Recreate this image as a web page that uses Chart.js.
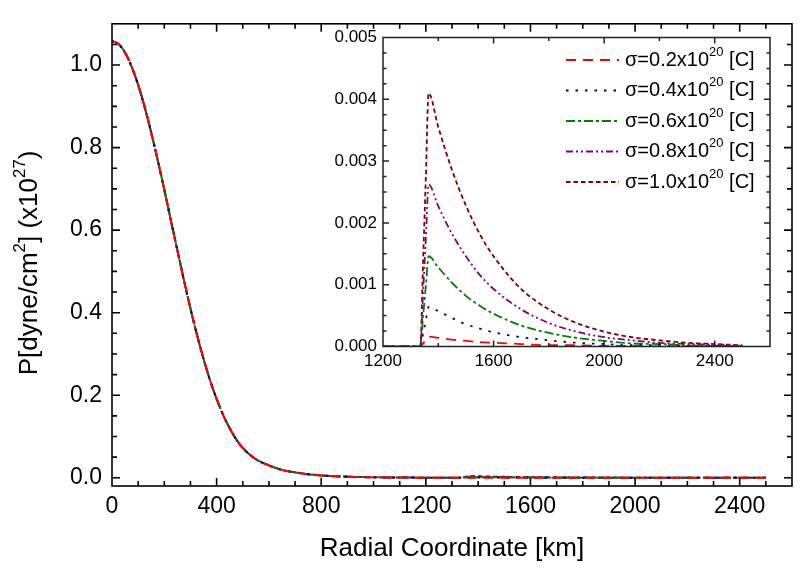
<!DOCTYPE html>
<html>
<head>
<meta charset="utf-8">
<script src="https://cdn.jsdelivr.net/npm/chart.js@4.4.0/dist/chart.umd.min.js"></script>
<style>
  html, body { margin: 0; padding: 0; background: #fff; }
  #wrap { position: relative; width: 806px; height: 570px; }
  #mainBox { position: absolute; left: 0; top: 0; width: 806px; height: 570px; }
  #insetBox { position: absolute; left: 320px; top: 20px; width: 460px; height: 355px; }
</style>
</head>
<body>
<div id="wrap">
  <div id="mainBox"><canvas id="mainChart"></canvas></div>
  <div id="insetBox"><canvas id="insetChart"></canvas></div>
</div>
<script>
// central pressure profile (same for every sigma, curves overlap)
const coreRadius = [0, 25, 50, 75, 100, 125, 150, 175, 200, 225, 250, 275, 300, 325, 350, 375, 400, 425, 450, 475, 500, 550, 600, 650, 700, 750, 800, 900, 1000, 1100, 1200];
const corePressure = [1.058, 1.051, 1.030, 0.996, 0.952, 0.898, 0.836, 0.769, 0.698, 0.624, 0.551, 0.479, 0.410, 0.346, 0.288, 0.236, 0.191, 0.152, 0.120, 0.093, 0.072, 0.045, 0.030, 0.019, 0.013, 0.0085, 0.0055, 0.0025, 0.0012, 0.0005, 0.0002];

// outer shell bump (inset)
const shellRadius = [1200, 1300, 1335, 1345, 1355, 1365, 1400, 1450, 1500, 1550, 1600, 1700, 1800, 1900, 2000, 2100, 2200, 2300, 2400, 2500];
const sigma02 = [0, 0, 0, 0.00005, 0.00011, 0.00016, 0.00014, 0.00011, 0.00009, 0.00007, 0.00006, 0.00004, 0.00002, 0.00002, 0.00001, 0.00001, 0, 0, 0, 0];
const sigma04 = [0, 0, 0, 0.00021, 0.00043, 0.00064, 0.00057, 0.00046, 0.00036, 0.00029, 0.00023, 0.00015, 0.0001, 0.00006, 0.00004, 0.00002, 0.00002, 0.00001, 0.00001, 0];
const sigma06 = [0, 0, 0, 0.00049, 0.00098, 0.00146, 0.00128, 0.00103, 0.00082, 0.00066, 0.00053, 0.00034, 0.00022, 0.00014, 0.00009, 0.00005, 0.00004, 0.00002, 0.00001, 0.00001];
const sigma08 = [0, 0, 0, 0.00088, 0.00175, 0.00262, 0.00227, 0.00182, 0.00146, 0.00116, 0.00093, 0.0006, 0.00038, 0.00024, 0.00015, 0.0001, 0.00006, 0.00004, 0.00003, 0.00001];
const sigma10 = [0, 0, 0, 0.00137, 0.00274, 0.0041, 0.00355, 0.00285, 0.00228, 0.00182, 0.00146, 0.00093, 0.0006, 0.00038, 0.00024, 0.00015, 0.0001, 0.00006, 0.00004, 0.00002];

const seriesLabels = ['σ=0.2x10²⁰ [C]', 'σ=0.4x10²⁰ [C]', 'σ=0.6x10²⁰ [C]', 'σ=0.8x10²⁰ [C]', 'σ=1.0x10²⁰ [C]'];
const shellSeries = [sigma02, sigma04, sigma06, sigma08, sigma10];

const mainXTicks = [0, 400, 800, 1200, 1600, 2000, 2400];
const mainYTicks = [0, 0.2, 0.4, 0.6, 0.8, 1.0];
const insetXTicks = [1200, 1600, 2000, 2400];
const insetYTicks = [0, 0.001, 0.002, 0.003, 0.004, 0.005];

const seriesColors = ['#ff0000', '#000080', '#008000', '#800080', '#800000'];
const seriesDashes = [[10, 7], [2.5, 7], [9, 3, 3, 3], [7, 3, 2, 3, 2, 3], [4.5, 3]];

const FONT = '"Liberation Sans", Arial, Helvetica, sans-serif';

function mainPoints(shell) {
    const pts = coreRadius.map((r, i) => ({ x: r, y: corePressure[i] }));
    return pts.concat(shellRadius.slice(1).map((r, i) => ({ x: r, y: shell[i + 1] })));
}
function insetPoints(shell) {
    return shellRadius.map((r, i) => ({ x: r, y: shell[i] }));
}

// frame box + inward ticks on all four sides
const frameAndTicks = {
    id: 'frameAndTicks',
    afterDatasetsDraw(chart, args, o) {
        const { ctx, chartArea: a, scales: { x, y } } = chart;
        const steps = (scale, minor, major) => {
            const out = [];
            const n0 = Math.ceil(scale.min / minor - 1e-9), n1 = Math.floor(scale.max / minor + 1e-9);
            for (let n = n0; n <= n1; n++) {
                const r = (n * minor) / major;
                out.push({ v: n * minor, major: Math.abs(r - Math.round(r)) < 1e-6 });
            }
            return out;
        };
        ctx.save();
        ctx.setLineDash([]);
        ctx.strokeStyle = o.color;
        ctx.lineWidth = o.lineWidth;
        ctx.beginPath();
        steps(x, o.xMinor, o.xMajor).forEach(t => {
            const p = x.getPixelForValue(t.v);
            if (p <= a.left + 1 || p >= a.right - 1) return;
            const len = t.major ? o.majorLen : o.minorLen;
            ctx.moveTo(p, a.bottom); ctx.lineTo(p, a.bottom - len);
            ctx.moveTo(p, a.top); ctx.lineTo(p, a.top + len);
        });
        steps(y, o.yMinor, o.yMajor).forEach(t => {
            const p = y.getPixelForValue(t.v);
            if (p <= a.top + 1 || p >= a.bottom - 1) return;
            const len = t.major ? o.majorLen : o.minorLen;
            ctx.moveTo(a.left, p); ctx.lineTo(a.left + len, p);
            ctx.moveTo(a.right, p); ctx.lineTo(a.right - len, p);
        });
        ctx.stroke();
        ctx.strokeRect(a.left, a.top, a.right - a.left, a.bottom - a.top);
        ctx.restore();
    }
};

// text with unicode superscripts drawn small and raised
const SUP = { '⁰': '0', '¹': '1', '²': '2', '³': '3', '⁴': '4', '⁵': '5', '⁶': '6', '⁷': '7', '⁸': '8', '⁹': '9' };
function drawRich(ctx, text, x, y, size) {
    const runs = [];
    for (const ch of text) {
        const sup = ch in SUP;
        const c = sup ? SUP[ch] : ch;
        if (runs.length && runs[runs.length - 1].sup === sup) runs[runs.length - 1].t += c;
        else runs.push({ sup, t: c });
    }
    let cx = x;
    runs.forEach(r => {
        const s = r.sup ? size * 0.65 : size;
        ctx.font = s + 'px ' + FONT;
        ctx.fillText(r.t, cx, r.sup ? y - size * 0.38 : y);
        cx += ctx.measureText(r.t).width;
    });
}

const insetLegend = {
    id: 'insetLegend',
    afterDraw(chart, args, o) {
        const { ctx, chartArea: a } = chart;
        ctx.save();
        ctx.textBaseline = 'middle';
        ctx.fillStyle = '#000';
        chart.data.datasets.forEach((ds, i) => {
            const yy = a.top + o.top + i * o.rowGap;
            ctx.strokeStyle = ds.borderColor;
            ctx.lineWidth = 2;
            ctx.setLineDash(ds.borderDash);
            ctx.beginPath();
            ctx.moveTo(a.right - o.lineStart, yy);
            ctx.lineTo(a.right - o.lineStart + o.lineLen, yy);
            ctx.stroke();
            ctx.setLineDash([]);
            drawRich(ctx, ds.label, a.right - o.textStart, yy, o.size);
        });
        ctx.restore();
    }
};

// y axis title with real superscripts
const yTitle = {
    id: 'yTitle',
    afterDraw(chart, args, o) {
        const { ctx, chartArea: a } = chart;
        ctx.save();
        ctx.fillStyle = '#000';
        ctx.textBaseline = 'middle';
        ctx.font = o.size + 'px ' + FONT;
        let w = 0;
        for (const ch of o.text) {
            ctx.font = (ch in SUP ? o.size * 0.65 : o.size) + 'px ' + FONT;
            w += ctx.measureText(ch in SUP ? SUP[ch] : ch).width;
        }
        ctx.translate(o.x, (a.top + a.bottom) / 2 + o.dy);
        ctx.rotate(-Math.PI / 2);
        drawRich(ctx, o.text, -w / 2, 0, o.size);
        ctx.restore();
    }
};

new Chart(document.getElementById('mainChart'), {
    type: 'line',
    data: {
        datasets: seriesLabels.map((label, i) => ({
            label: label,
            data: mainPoints(shellSeries[i]),
            borderColor: seriesColors[i],
            borderDash: seriesDashes[i],
            borderWidth: 2,
            pointRadius: 0,
            fill: false,
            cubicInterpolationMode: 'monotone'
        }))
    },
    options: {
        responsive: true,
        maintainAspectRatio: false,
        animation: false,
        layout: { padding: { top: 19, right: 14, left: 0, bottom: 0 } },
        plugins: {
            legend: { display: false },
            tooltip: { enabled: false },
            frameAndTicks: { color: '#000', lineWidth: 1.6, xMajor: 400, xMinor: 100, yMajor: 0.2, yMinor: 0.05, majorLen: 8, minorLen: 5 },
            yTitle: { text: 'P[dyne/cm²] (x10²⁷)', size: 26, x: 30, dy: 8 }
        },
        scales: {
            x: {
                type: 'linear', min: 0, max: 2600,
                grid: { display: false, drawTicks: false },
                border: { display: false },
                afterBuildTicks: s => { s.ticks = mainXTicks.map(v => ({ value: v })); },
                afterFit: s => { s.height = 84; },
                ticks: { color: '#000', font: { family: FONT, size: 23 }, padding: 7, maxRotation: 0, autoSkip: false, callback: v => String(v) },
                title: { display: true, text: 'Radial Coordinate [km]', color: '#000', font: { family: FONT, size: 26 }, padding: { top: 0, bottom: 6 } }
            },
            y: {
                type: 'linear', min: -0.02, max: 1.1,
                grid: { display: false, drawTicks: false },
                border: { display: false },
                afterBuildTicks: s => { s.ticks = mainYTicks.map(v => ({ value: v })); },
                afterFit: s => { s.width = 112; },
                ticks: { color: '#000', font: { family: FONT, size: 23 }, padding: 10, autoSkip: false, callback: v => v.toFixed(1) }
            }
        }
    },
    plugins: [frameAndTicks, yTitle]
});

new Chart(document.getElementById('insetChart'), {
    type: 'line',
    data: {
        datasets: seriesLabels.map((label, i) => ({
            label: label,
            data: insetPoints(shellSeries[i]),
            borderColor: seriesColors[i],
            borderDash: seriesDashes[i],
            borderWidth: 1.8,
            pointRadius: 0,
            fill: false,
            cubicInterpolationMode: 'monotone'
        }))
    },
    options: {
        responsive: true,
        maintainAspectRatio: false,
        animation: false,
        layout: { padding: { top: 17.5, right: 10, left: 0, bottom: 0 } },
        plugins: {
            legend: { display: false },
            tooltip: { enabled: false },
            frameAndTicks: { color: '#222', lineWidth: 1.5, xMajor: 400, xMinor: 200, yMajor: 0.001, yMinor: 0.00025, majorLen: 6, minorLen: 3.5 },
            insetLegend: { top: 22.5, rowGap: 30.5, lineStart: 204, lineLen: 53, textStart: 145, size: 20 }
        },
        scales: {
            x: {
                type: 'linear', min: 1200, max: 2600,
                grid: { display: false, drawTicks: false },
                border: { display: false },
                afterBuildTicks: s => { s.ticks = insetXTicks.map(v => ({ value: v })); },
                afterFit: s => { s.height = 28.5; },
                ticks: { color: '#000', font: { family: FONT, size: 17 }, padding: 5, maxRotation: 0, autoSkip: false, callback: v => String(v) }
            },
            y: {
                type: 'linear', min: 0, max: 0.005,
                grid: { display: false, drawTicks: false },
                border: { display: false },
                afterBuildTicks: s => { s.ticks = insetYTicks.map(v => ({ value: v })); },
                afterFit: s => { s.width = 63; },
                ticks: { color: '#000', font: { family: FONT, size: 17 }, padding: 6, autoSkip: false, callback: v => v.toFixed(3) }
            }
        }
    },
    plugins: [frameAndTicks, insetLegend]
});
</script>
</body>
</html>
